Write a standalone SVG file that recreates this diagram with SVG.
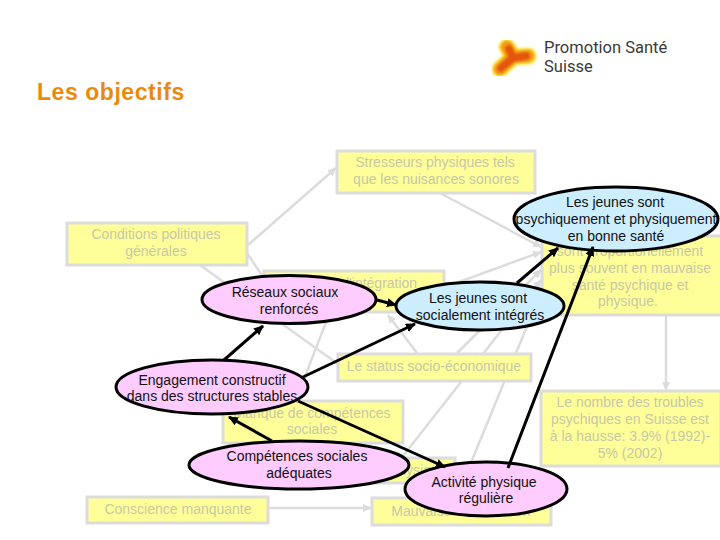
<svg xmlns="http://www.w3.org/2000/svg" width="720" height="540" viewBox="0 0 720 540">
<style>
text{font-family:"Liberation Sans",Arial,sans-serif;font-size:14px;text-anchor:middle}
.box rect{fill:#ffff99;stroke:#dcdcdc;stroke-width:3}
.box text{fill:#c8c8a8}
.el ellipse{stroke:#000;stroke-width:3}
.el text{fill:#111}
.p ellipse{fill:#ffccff}
.b ellipse{fill:#cceeff}
#grey line{stroke:#dcdcdc;stroke-width:2.5;fill:none}
#black line{stroke:#000;stroke-width:3;fill:none}
</style>
<defs>
<marker id="ag" markerUnits="userSpaceOnUse" markerWidth="10" markerHeight="10" refX="8" refY="4" orient="auto"><path d="M0 0L9 4L0 8Z" fill="#dcdcdc"/></marker>
<marker id="ak" markerUnits="userSpaceOnUse" markerWidth="12" markerHeight="10" refX="9" refY="4.5" orient="auto"><path d="M0 0L10 4.5L0 9Z" fill="#000"/></marker>
<filter id="soft" x="-30%" y="-30%" width="160%" height="160%"><feGaussianBlur stdDeviation="1.3"/></filter>
</defs>
<rect width="720" height="540" fill="#fff"/>
<g id="logo">
<g fill="none" stroke-linecap="round" stroke-linejoin="round" filter="url(#soft)">
<path d="M500 69L513 57L507 47M513 57L528 56" stroke="#ffe63c" stroke-width="17"/>
<path d="M500 69L513 57L507 47M513 57L528 56" stroke="#f59a16" stroke-width="13"/>
<path d="M501 68L513 58L509 49M513 58L526 56" stroke="#e4560f" stroke-width="8"/>
</g>
<text x="544" y="53" style="text-anchor:start;font-family:Roboto,sans-serif;font-size:16.5px;fill:#3a3a3a">Promotion Santé</text>
<text x="544" y="72" style="text-anchor:start;font-family:Roboto,sans-serif;font-size:16.5px;fill:#3a3a3a">Suisse</text>
</g>
<text id="title" x="37" y="100" style="text-anchor:start;font-size:23px;font-weight:bold;letter-spacing:.55px;fill:#ea8a0c">Les objectifs</text>
<g id="grey">
<line x1="248" y1="245" x2="336" y2="168" marker-end="url(#ag)"/>
<line x1="440" y1="193" x2="541" y2="247" marker-end="url(#ag)"/>
<line x1="200" y1="265" x2="338" y2="364"/>
<line x1="247" y1="253" x2="263" y2="277"/>
<line x1="330" y1="312" x2="296" y2="400"/>
<line x1="417" y1="353" x2="388" y2="315" marker-end="url(#ag)"/>
<line x1="445" y1="287" x2="541" y2="252" marker-end="url(#ag)"/>
<line x1="457" y1="353" x2="541" y2="270" marker-end="url(#ag)"/>
<line x1="403" y1="456" x2="541" y2="280" marker-end="url(#ag)"/>
<line x1="466" y1="475" x2="541" y2="292" marker-end="url(#ag)"/>
<line x1="666" y1="316" x2="666" y2="390" marker-end="url(#ag)"/>
<line x1="269" y1="508" x2="371" y2="508" marker-end="url(#ag)"/>
</g>
<g class="box">
<g id="n-stress"><rect x="337" y="151" width="198" height="42"/><text x="435" y="167">Stresseurs physiques tels</text><text x="436" y="184">que les nuisances sonores</text></g>
<g id="n-cond"><rect x="67" y="223" width="180" height="42"/><text x="156" y="239">Conditions politiques</text><text x="156" y="256">générales</text></g>
<g id="n-integ"><rect x="264" y="271" width="180" height="41"/><text x="352" y="288">Manque d'intégration</text></g>
<g id="n-sante"><rect x="542" y="236" width="180" height="79"/><text x="630" y="256">sont proportionellement</text><text x="630" y="273">plus souvent en mauvaise</text><text x="630" y="290">santé psychique et</text><text x="628" y="306">physique.</text></g>
<g id="n-status"><rect x="338" y="354" width="193" height="27"/><text x="434" y="371">Le status socio-économique</text></g>
<g id="n-manque"><rect x="223" y="401" width="180" height="42"/><text x="312" y="418">Manque de compétences</text><text x="312" y="434">sociales</text></g>
<g id="n-nombre"><rect x="541" y="391" width="180" height="75"/><text x="630" y="407">Le nombre des troubles</text><text x="630" y="424">psychiques en Suisse est</text><text x="630" y="441">à la hausse: 3.9% (1992)-</text><text x="630" y="458">5% (2002)</text></g>
<g id="n-inact"><rect x="330" y="458" width="125" height="25"/><text x="389" y="475">Inactivité physique</text></g>
<g id="n-conscience"><rect x="87" y="497" width="181" height="26"/><text x="178" y="514">Conscience manquante</text></g>
<g id="n-mauvaise"><rect x="372" y="498" width="179" height="27"/><text x="461" y="516">Mauvaise alimentation</text></g>
</g>
<g class="el">
<g class="p" id="e-reseaux"><ellipse cx="289" cy="299.5" rx="87" ry="24"/><text x="285" y="297">Réseaux sociaux</text><text x="289" y="314">renforcés</text></g>
<g class="b" id="e-integres"><ellipse cx="480" cy="306" rx="84" ry="24"/><text x="478" y="303">Les jeunes sont</text><text x="480" y="320">socialement intégrés</text></g>
<g class="b" id="e-bonne"><ellipse cx="616" cy="219" rx="102" ry="32"/><text x="615" y="207">Les jeunes sont</text><text x="616" y="224">psychiquement et physiquement</text><text x="616" y="241">en bonne santé</text></g>
<g class="p" id="e-engag"><ellipse cx="212" cy="387" rx="96" ry="27"/><text x="212" y="385">Engagement constructif</text><text x="212" y="401">dans des structures stables</text></g>
<g class="p" id="e-compet"><ellipse cx="299" cy="465" rx="110" ry="24"/><text x="297" y="461">Compétences sociales</text><text x="299" y="478">adéquates</text></g>
<g class="p" id="e-activ"><ellipse cx="486" cy="489" rx="81" ry="27"/><text x="484" y="487">Activité physique</text><text x="486" y="503">régulière</text></g>
</g>
<g id="black">
<line x1="377" y1="300" x2="396" y2="305" marker-end="url(#ak)"/>
<line x1="224" y1="360" x2="263" y2="326" marker-end="url(#ak)"/>
<line x1="303" y1="377" x2="415" y2="324" marker-end="url(#ak)"/>
<line x1="272" y1="441" x2="229" y2="417" marker-end="url(#ak)"/>
<line x1="298" y1="401" x2="445" y2="467" marker-end="url(#ak)"/>
<line x1="508" y1="468" x2="593" y2="247" marker-end="url(#ak)"/>
<line x1="517" y1="283" x2="558" y2="248" marker-end="url(#ak)"/>
</g>
</svg>
